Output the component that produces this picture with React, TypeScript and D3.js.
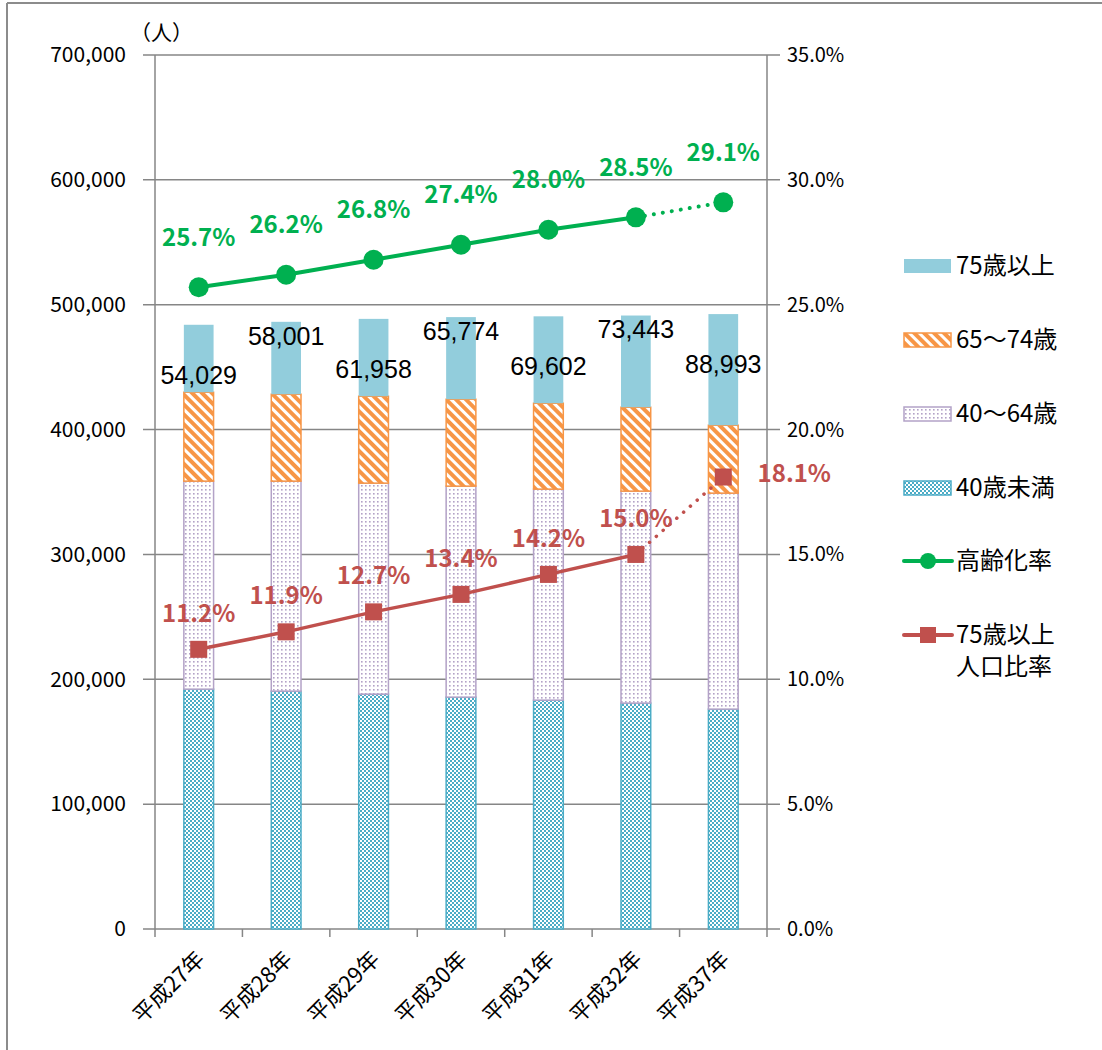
import * as d3 from "d3";

const categories = ["平成27年", "平成28年", "平成29年", "平成30年", "平成31年", "平成32年", "平成37年"];
const under40 = [192100, 190500, 188100, 185700, 183300, 180900, 176100];
const age40to64 = [166600, 168200, 169000, 169000, 169000, 169800, 173000];
const age65to74 = [71200, 69600, 69600, 69600, 68800, 67200, 54400];
const age75plus = [54029, 58001, 61958, 65774, 69602, 73443, 88993];
const agingRate = [25.7, 26.2, 26.8, 27.4, 28.0, 28.5, 29.1];
const over75Rate = [11.2, 11.9, 12.7, 13.4, 14.2, 15.0, 18.1];
const leftTicks = [0, 100000, 200000, 300000, 400000, 500000, 600000, 700000];
const rightTicks = [0, 5, 10, 15, 20, 25, 30, 35];

const W = 1102;
const H = 1050;
const left = 155;
const right = 767;
const top = 55;
const bottom = 929;

const FONT = "'Noto Sans CJK JP', 'Noto Sans', sans-serif";
const GREEN = "#00B050";
const RED = "#C0504D";
const AXIS = "#868686";

const App = () => {
  const x = d3.scaleBand<string>().domain(categories).range([left, right]);
  const yL = d3.scaleLinear().domain([0, 700000]).range([bottom, top]);
  const yR = d3.scaleLinear().domain([0, 35]).range([bottom, top]);
  const cx = (c: string) => (x(c) as number) + x.bandwidth() / 2;
  const barW = x.bandwidth() * 0.34;

  const segs = [
    { key: "u40", vals: under40, fill: "url(#pChk)", stroke: "#4BACC6" },
    { key: "m", vals: age40to64, fill: "url(#pDot)", stroke: "#B3A2C7" },
    { key: "o", vals: age65to74, fill: "url(#pStr)", stroke: "#F79646" },
    { key: "p", vals: age75plus, fill: "#92CDDC", stroke: "none" },
  ];
  const stack = categories.map((_, i) => {
    let acc = 0;
    return segs.map((s) => {
      const y0 = acc;
      acc += s.vals[i];
      return [y0, acc];
    });
  });

  const line = d3
    .line<number>()
    .x((_, i) => cx(categories[i]))
    .y((d) => yR(d));

  const n = categories.length;

  const legendItems = [
    { label: ["75歳以上"], y: 266, kind: "rect", fill: "#92CDDC", stroke: "none" },
    { label: ["65〜74歳"], y: 340, kind: "rect", fill: "url(#pStr)", stroke: "#F79646" },
    { label: ["40〜64歳"], y: 414, kind: "rect", fill: "url(#pDot)", stroke: "#B3A2C7" },
    { label: ["40歳未満"], y: 488, kind: "rect", fill: "url(#pChk)", stroke: "#4BACC6" },
    { label: ["高齢化率"], y: 561, kind: "circle", fill: GREEN, stroke: GREEN },
    { label: ["75歳以上", "人口比率"], y: 635, kind: "square", fill: RED, stroke: RED },
  ];

  return (
    <div style={{ position: "absolute", left: 0, top: 0 }}>
      <svg width={W} height={H} style={{ display: "block", fontFamily: FONT }}>
        <defs>
          <pattern id="pStr" patternUnits="userSpaceOnUse" width={7} height={7} patternTransform="rotate(-45)">
            <rect width={7} height={7} fill="#F79646" />
            <rect width={3} height={7} fill="#fff" />
          </pattern>
          <pattern id="pDot" patternUnits="userSpaceOnUse" width={4} height={4}>
            <rect width={4} height={4} fill="#fff" />
            <rect x={1} y={1} width={1.6} height={1.6} fill="#B3A2C7" />
          </pattern>
          <pattern id="pChk" patternUnits="userSpaceOnUse" width={4} height={4}>
            <rect width={4} height={4} fill="#4BACC6" />
            <rect width={2} height={2} fill="#fff" />
            <rect x={2} y={2} width={2} height={2} fill="#fff" />
          </pattern>
        </defs>

        <rect x={0} y={0} width={W} height={H} fill="#fff" />
        <line x1={7} x2={7} y1={3} y2={H} stroke="#8c8c8c" strokeWidth={2} />
        <line x1={7} x2={W} y1={3} y2={3} stroke="#8c8c8c" strokeWidth={2} />

        {/* gridlines + ticks */}
        {leftTicks.map((t) => (
          <line key={t} x1={143} x2={780} y1={yL(t)} y2={yL(t)} stroke={AXIS} strokeWidth={1.5} />
        ))}
        <line x1={left} x2={left} y1={top} y2={bottom} stroke={AXIS} strokeWidth={1.5} />
        <line x1={right} x2={right} y1={top} y2={bottom} stroke={AXIS} strokeWidth={1.5} />
        {[...categories.map((c) => x(c) as number), right].map((v, i) => (
          <line key={i} x1={v} x2={v} y1={bottom} y2={bottom + 8} stroke={AXIS} strokeWidth={1.5} />
        ))}

        {/* axis labels */}
        {leftTicks.map((t) => (
          <text key={t} x={126} y={yL(t)} dy="0.35em" textAnchor="end" fontSize={21} fill="#000">
            {d3.format(",")(t)}
          </text>
        ))}
        {rightTicks.map((t) => (
          <text key={t} x={787} y={yR(t)} dy="0.35em" textAnchor="start" fontSize={20} fill="#000">
            {d3.format(".1f")(t) + "%"}
          </text>
        ))}
        <text x={130} y={40} fontSize={21} fill="#000">（人）</text>

        {/* x labels */}
        {categories.map((c) => (
          <text
            key={c}
            transform={`translate(${cx(c) + 2},${bottom + 26}) rotate(-45)`}
            textAnchor="end"
            dy="0.35em"
            fontSize={22}
            fill="#000"
          >
            {c}
          </text>
        ))}

        {/* bars */}
        {categories.map((c, i) =>
          segs.map((s, j) => {
            const [a, b] = stack[i][j];
            return (
              <rect
                key={c + s.key}
                x={cx(c) - barW / 2}
                y={yL(b)}
                width={barW}
                height={yL(a) - yL(b)}
                fill={s.fill}
                stroke={s.stroke}
                strokeWidth={s.stroke === "none" ? 0 : 1.5}
              />
            );
          })
        )}

        {/* 75+ value labels */}
        {categories.map((c, i) => (
          <text
            key={c}
            x={cx(c)}
            y={yL(stack[i][3][1]) + (i % 2 ? 14 : 50)}
            dy="0.35em"
            textAnchor="middle"
            fontSize={25}
            fontFamily="'Liberation Sans', Arial, sans-serif"
            fill="#000"
          >
            {d3.format(",")(age75plus[i])}
          </text>
        ))}

        {/* lines */}
        {[
          { vals: agingRate, color: GREEN, w: 4 },
          { vals: over75Rate, color: RED, w: 3.5 },
        ].map((s, k) => (
          <g key={k}>
            <path d={line(s.vals.slice(0, n - 1)) as string} fill="none" stroke={s.color} strokeWidth={s.w} />
            <line
              x1={cx(categories[n - 2])}
              y1={yR(s.vals[n - 2])}
              x2={cx(categories[n - 1])}
              y2={yR(s.vals[n - 1])}
              stroke={s.color}
              strokeWidth={s.w}
              strokeDasharray="0.1 9"
              strokeLinecap="round"
            />
          </g>
        ))}
        {agingRate.map((v, i) => (
          <circle key={i} cx={cx(categories[i])} cy={yR(v)} r={10} fill={GREEN} />
        ))}
        {over75Rate.map((v, i) => (
          <rect key={i} x={cx(categories[i]) - 8.5} y={yR(v) - 8.5} width={17} height={17} fill={RED} />
        ))}

        {/* percent labels */}
        {agingRate.map((v, i) => (
          <text
            key={i}
            x={cx(categories[i])}
            y={yR(v) - 50}
            dy="0.35em"
            textAnchor="middle"
            fontSize={24}
            fontWeight="bold"
            fill={GREEN}
          >
            {d3.format(".1f")(v) + "%"}
          </text>
        ))}
        {over75Rate.map((v, i) => {
          const last = i === n - 1;
          return (
            <text
              key={i}
              x={cx(categories[i]) + (last ? 71 : 0)}
              y={yR(v) - (last ? 3 : 36)}
              dy="0.35em"
              textAnchor="middle"
              fontSize={24}
              fontWeight="bold"
              fill={RED}
            >
              {d3.format(".1f")(v) + "%"}
            </text>
          );
        })}

        {/* legend */}
        {legendItems.map((it) => (
          <g key={it.label[0] + it.y}>
            {it.kind === "rect" ? (
              <rect x={904} y={it.y - 7} width={47} height={14} fill={it.fill} stroke={it.stroke} strokeWidth={it.stroke === "none" ? 0 : 1.5} />
            ) : (
              <g>
                <line x1={904} x2={952} y1={it.y} y2={it.y} stroke={it.fill} strokeWidth={4} strokeLinecap="round" />
                {it.kind === "circle" ? (
                  <circle cx={928} cy={it.y} r={8} fill={it.fill} />
                ) : (
                  <rect x={920} y={it.y - 8} width={16} height={16} fill={it.fill} />
                )}
              </g>
            )}
            {it.label.map((l, k) => (
              <text key={k} x={956} y={it.y + k * 32} dy="0.35em" fontSize={24} fill="#000">
                {l}
              </text>
            ))}
          </g>
        ))}
      </svg>
    </div>
  );
};

export default App;
